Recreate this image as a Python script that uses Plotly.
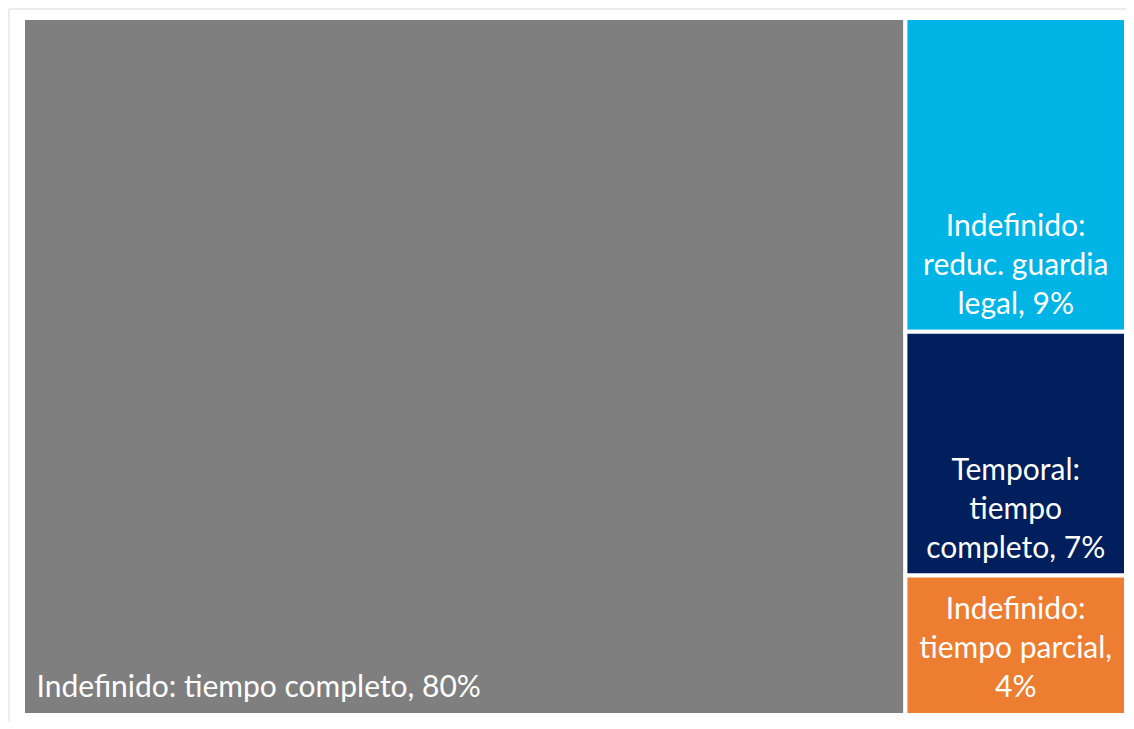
import plotly.graph_objects as go

categories = [
    "Indefinido: tiempo completo",
    "Indefinido: reduc. guardia legal",
    "Temporal: tiempo completo",
    "Indefinido: tiempo parcial",
]
values = [80, 9, 7, 4]
display_labels = [
    "Indefinido: tiempo completo, 80%",
    "Indefinido:<br>reduc. guardia<br>legal, 9%",
    "Temporal:<br>tiempo<br>completo, 7%",
    "Indefinido:<br>tiempo parcial,<br>4%",
]
colors = ["#7f7f7f", "#00b4e6", "#001f5c", "#ed7d31"]

# figure size (page body adds an 8px margin around it)
W, H = 1118, 713
ML, MR, MT, MB = 14.5, 0, 0.5, 6.3
PW, PH = W - ML - MR, H - MT - MB
FONT = "Lato, Open Sans, sans-serif"
FS = 30
TXT_DX, TXT_DY = 10.5, 9  # inner text padding (px)

big_text = [display_labels[0], "", "", ""]
small_text = ["", display_labels[1], display_labels[2], display_labels[3]]
pad0 = dict(t=0, l=0, r=0, b=0)
clear = ["rgba(0,0,0,0)"] * len(categories)

common = dict(
    labels=categories,
    parents=[""] * len(categories),
    values=values,
    tiling=dict(pad=0),
    pathbar=dict(visible=False),
    sort=False,
)

fig = go.Figure()
# coloured tiles
fig.add_trace(go.Treemap(
    **common,
    textinfo="none",
    marker=dict(colors=colors, line=dict(color="white", width=4), pad=pad0),
    domain=dict(x=[0, 1], y=[0, 1 - TXT_DY / PH]),
    hoverinfo="label+value",
))
# big label (bottom left)
fig.add_trace(go.Treemap(
    **common,
    text=big_text,
    texttemplate="%{text}",
    textposition="bottom left",
    marker=dict(colors=clear, line=dict(color="rgba(0,0,0,0)", width=0), pad=pad0),
    insidetextfont=dict(family=FONT, size=FS, color="white"),
    domain=dict(x=[TXT_DX / PW, 1], y=[TXT_DY / PH, 1]),
    hoverinfo="skip",
))
# small labels (bottom centre)
fig.add_trace(go.Treemap(
    **common,
    text=small_text,
    texttemplate="%{text}",
    textposition="bottom center",
    marker=dict(colors=clear, line=dict(color="rgba(0,0,0,0)", width=0), pad=pad0),
    insidetextfont=dict(family=FONT, size=FS, color="white"),
    domain=dict(x=[0, 1], y=[TXT_DY / PH, 1]),
    hoverinfo="skip",
))

fig.update_layout(
    width=W, height=H,
    margin=dict(l=ML, r=MR, t=MT, b=MB, autoexpand=False),
    paper_bgcolor="white",
    showlegend=False,
    font=dict(family=FONT),
    shapes=[dict(
        type="rect", xref="paper", yref="paper",
        x0=(0.5 - ML) / PW, x1=1.5,
        y0=-0.5, y1=1 + (MT - 0.5) / PH,
        line=dict(color="#d9d9d9", width=1), fillcolor="rgba(0,0,0,0)", layer="below",
    )],
)

fig.write_html("out.html")
